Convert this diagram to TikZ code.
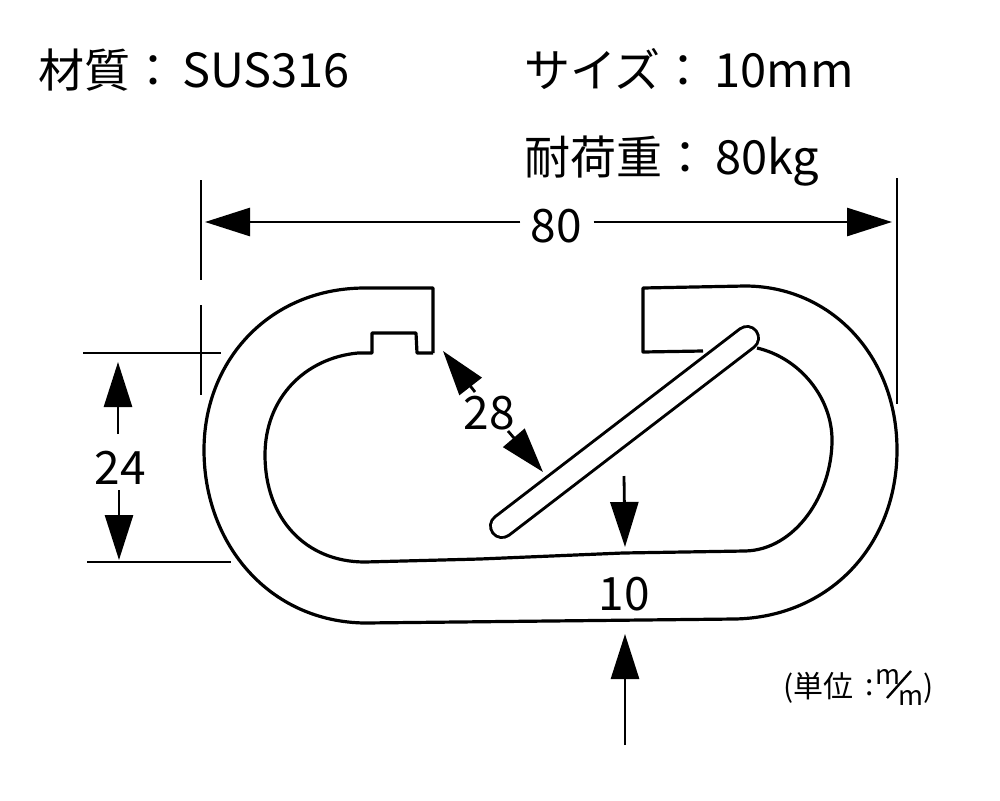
\documentclass[tikz,border=0pt]{standalone}
\usepackage{fontspec}
\setmainfont{Noto Sans CJK JP}
\usetikzlibrary{arrows.meta}
\newcommand{\latinpart}[1]{{\fontsize{47}{47}\selectfont #1}}
\tikzset{
  lab/.style={inner sep=0pt,outer sep=0pt,text=black,font=\fontsize{46}{46}\selectfont},
  small/.style={inner sep=0pt,outer sep=0pt,text=black,font=\fontsize{30}{30}\selectfont},
  tiny/.style={inner sep=0pt,outer sep=0pt,text=black,font=\fontsize{27}{27}\selectfont},
  ext/.style={line width=2.4pt,black},
  dim/.style={line width=2.8pt,black,-{Triangle[length=45pt,width=28pt]}},
  outline/.style={line width=3.2pt,black,line join=round},
}
\begin{document}
\begin{tikzpicture}[x=1pt,y=-1pt]
\useasboundingbox (0,0) rectangle (1000,800);
\fill[white] (0,0) rectangle (1000,800);
% texts
\node[lab,anchor=base west] (t1) at (38,87) {材質：\hspace{6pt}\latinpart{SUS316}};
\node[lab,anchor=base west] (t2) at (524,87) {サイズ：\hspace{8pt}\latinpart{10mm}};
\node[lab,anchor=base west] (t3) at (524,174) {耐荷重：\hspace{7pt}\latinpart{80kg}};
% body outer
\draw[outline] (433,353) -- (433,288) -- (365,288)
  .. controls (270,288) and (204,360) .. (204,450)
  .. controls (204,545) and (270,622) .. (365,623)
  -- (735,619)
  .. controls (830,617) and (897,545) .. (897,450)
  .. controls (897,355) and (830,286) .. (745,286)
  -- (643,288) -- (643,352) -- (703,351);
% body inner
\draw[outline] (433,353) -- (417,353) -- (416,333) -- (372,333) -- (372,353) -- (358,353)
  .. controls (305,358) and (265,398) .. (265,455)
  .. controls (265,518) and (305,562) .. (365,562)
  -- (480,559) -- (623,553) -- (745,551)
  .. controls (795,550) and (832,495) .. (832,440)
  .. controls (832,398) and (800,358) .. (757,348);
% gate bar
\coordinate (g1) at (502,526);
\coordinate (g2) at (747,338);
\draw[black,line width=26pt,line cap=round] (g1) -- (g2);
\draw[white,line width=20pt,line cap=round] (g1) -- (g2);
% extension lines
\coordinate (e1a) at (201,180); \coordinate (e1b) at (201,280);
\coordinate (e2a) at (201,305); \coordinate (e2b) at (201,395);
\coordinate (e3a) at (897,178); \coordinate (e3b) at (897,404);
\coordinate (e4a) at (83,353);  \coordinate (e4b) at (221,353);
\coordinate (e5a) at (87,562);  \coordinate (e5b) at (231,562);
\draw[ext] (e1a) -- (e1b);
\draw[ext] (e2a) -- (e2b);
\draw[ext] (e3a) -- (e3b);
\draw[ext] (e4a) -- (e4b);
\draw[ext] (e5a) -- (e5b);
% 80
\node[lab] (d80) at (556,226) {80};
\coordinate (a1) at (205,222); \coordinate (a2) at (892,222);
\draw[dim] (d80.west |- a1) ++(-10,0) -- (a1);
\draw[dim] (d80.east |- a2) ++(12,0) -- (a2);
% 24
\node[lab] (d24) at (120,468) {24};
\coordinate (b1) at (118,362); \coordinate (b2) at (119,560);
\draw[dim] (118,434) -- (b1);
\draw[dim] (119,490) -- (b2);
% 28
\node[lab] (d28) at (489,413) {28};
\coordinate (c1) at (443,351); \coordinate (c2) at (543,472);
\draw[dim] (475,392) -- (c1);
\draw[dim] (508,431) -- (c2);
% 10
\node[lab] (d10) at (624,594) {10};
\coordinate (f1a) at (624,476); \coordinate (f1b) at (625,547);
\coordinate (f2a) at (625,745); \coordinate (f2b) at (625,634);
\draw[dim] (f1a) -- (f1b);
\draw[dim] (f2a) -- (f2b);
% unit
\node[small,anchor=base west] (u1) at (783,697) {(単位};
\node[small,anchor=base west] (u2) at (865,695) {:};
\node[tiny,anchor=base west] (u3) at (875,684) {m};
\node[tiny,anchor=base west] (u4) at (898,705) {m};
\node[small,anchor=base west] (u5) at (923,697) {)};
\coordinate (s1) at (887,698); \coordinate (s2) at (911,671);
\draw[line width=2.4pt,black] (s1) -- (s2);
\end{tikzpicture}
\end{document}
